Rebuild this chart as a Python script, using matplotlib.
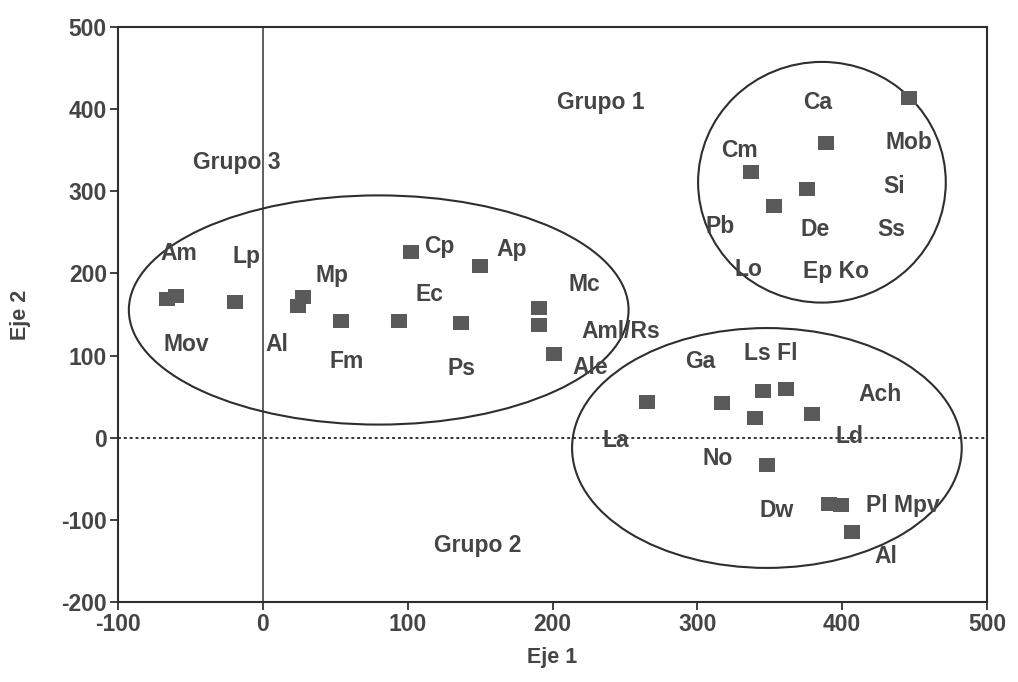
import matplotlib.pyplot as plt
from matplotlib.patches import Ellipse

plt.rcParams['font.family'] = ['Liberation Sans', 'DejaVu Sans']
plt.rcParams['axes.unicode_minus'] = False

TEXT_COLOR = '#454545'
MARK_COLOR = '#5a5a5a'
FS = 16.5

# Marker coordinates (Eje 1, Eje 2)
pts_x = [-66, -60, -19, 24, 28, 54, 94, 102, 137, 150, 191, 191, 201,
         265, 317, 345, 361, 340, 379, 348, 391, 399, 407,
         446, 389, 337, 376, 353]
pts_y = [169, 172, 165, 160, 171, 142, 142, 226, 140, 209, 158, 137, 102,
         43, 42, 57, 59, 24, 29, -33, -81, -82, -115,
         414, 359, 323, 303, 282]

# Point labels
lab_text = ['Am', 'Lp', 'Mov', 'Al', 'Mp', 'Fm', 'Cp', 'Ec', 'Ap', 'Ps', 'Mc',
            'Aml/Rs', 'Ale',
            'Ca', 'Mob', 'Cm', 'Si', 'Pb', 'De', 'Ss', 'Lo', 'Ep Ko',
            'Ga', 'Ls Fl', 'Ach', 'La', 'Ld', 'No', 'Dw', 'Pl Mpv', 'Al']
lab_x = [-58, -11, -53, 10, 48, 58, 122, 115, 172, 137, 222, 247, 226,
         383, 446, 329, 436, 316, 381, 434, 335, 396,
         302, 351, 426, 244, 405, 314, 355, 442, 430]
lab_y = [224, 221, 113, 113, 198, 93, 233, 174, 229, 84, 186, 129, 85,
         408, 359, 350, 306, 257, 253, 254, 205, 202,
         93, 102, 53, -3, 1, -25, -89, -82, -144]

# Group titles
grp_text = ['Grupo 1', 'Grupo 2', 'Grupo 3']
grp_x = [233, 148, -18]
grp_y = [408, -131, 335]

# Group ellipses: center x, center y, width, height
ell_cx = [386, 348, 80]
ell_cy = [311, -12.5, 155.5]
ell_w = [171, 269, 345]
ell_h = [293, 292, 279]

fig = plt.figure(figsize=(10.18, 6.82), dpi=100)
ax = fig.add_axes([0.1159, 0.1173, 0.8537, 0.8431])

ax.set_xlim(-100, 500)
ax.set_ylim(-200, 500)

ax.axvline(0, color='#333333', lw=1.1, zorder=1)
ax.axhline(0, color='#333333', lw=1.4, ls=(0, (1.5, 1.5)), zorder=1)

for cx, cy, w, h in zip(ell_cx, ell_cy, ell_w, ell_h):
    ax.add_patch(Ellipse((cx, cy), w, h, fill=False, ec='#2e2e2e', lw=1.5, zorder=2))

rect = [(-1.2, -1), (1.2, -1), (1.2, 1), (-1.2, 1), (-1.2, -1)]
ax.scatter(pts_x, pts_y, marker=rect, s=130, color=MARK_COLOR, lw=0, zorder=3)

for t, x, y in zip(lab_text, lab_x, lab_y):
    ax.text(x, y, t, ha='center', va='center', fontsize=FS, fontweight='bold',
            color=TEXT_COLOR, zorder=4)

for t, x, y in zip(grp_text, grp_x, grp_y):
    ax.text(x, y, t, ha='center', va='center', fontsize=FS, fontweight='bold',
            color=TEXT_COLOR, zorder=4)

ax.set_xticks(range(-100, 501, 100))
ax.set_yticks(range(-200, 501, 100))
ax.tick_params(direction='out', length=6, width=1.3, labelsize=FS,
               labelcolor=TEXT_COLOR, color='#333333', top=False, right=False, pad=2)
for lbl in ax.get_xticklabels() + ax.get_yticklabels():
    lbl.set_fontweight('bold')
for sp in ax.spines.values():
    sp.set_linewidth(1.5)
    sp.set_color('#2e2e2e')

ax.set_xlabel('Eje 1', fontsize=FS - 1, fontweight='bold', color=TEXT_COLOR, labelpad=8)
ax.set_ylabel('Eje 2', fontsize=FS - 1, fontweight='bold', color=TEXT_COLOR, labelpad=22)

fig.savefig('out.png', dpi=100)
